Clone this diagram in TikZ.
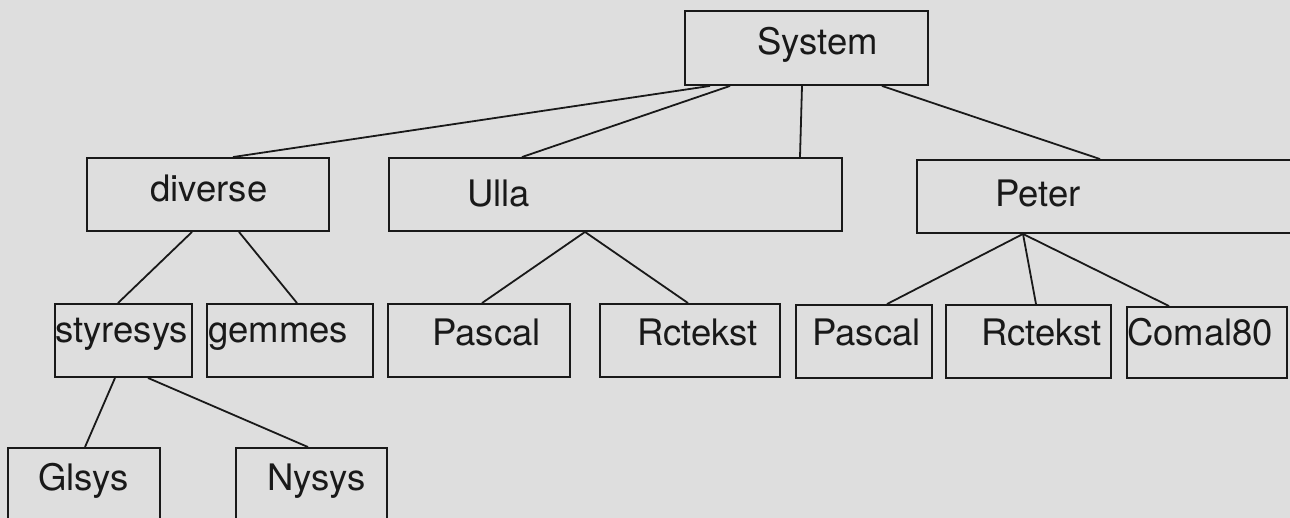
\documentclass[tikz,border=0pt]{standalone}
\usepackage{fontspec}
\setmainfont{TeX Gyre Heros}
\definecolor{bg}{RGB}{222,222,222}
\definecolor{ink}{RGB}{25,25,25}
\begin{document}
\begin{tikzpicture}[x=1pt,y=-1pt,
  box/.style={draw=ink, line width=1.9pt, rectangle, inner sep=0pt},
  lbl/.style={anchor=base west, inner sep=0pt, text=ink, font=\fontsize{36.5}{40}\selectfont},
  edge/.style={draw=ink, line width=1.8pt}]
\useasboundingbox (0,0) rectangle (1290,518);
\clip (0,0) rectangle (1290,518);
\fill[bg] (0,0) rectangle (1290,518);
% boxes
\node[box, minimum width=243pt, minimum height=74pt] (sys) at (806.5,48) {};
\node[box, minimum width=242pt, minimum height=73pt] (div) at (208,194.5) {};
\node[box, minimum width=453pt, minimum height=73pt] (ulla) at (615.5,194.5) {};
\node[box, minimum width=383pt, minimum height=73pt] (peter) at (1108.5,196.5) {};
\node[box, minimum width=137pt, minimum height=73pt] (sty) at (123.5,340.5) {};
\node[box, minimum width=166pt, minimum height=73pt] (gem) at (290,340.5) {};
\node[box, minimum width=182pt, minimum height=73pt] (pasA) at (479,340.5) {};
\node[box, minimum width=180pt, minimum height=73pt] (rctA) at (690,340.5) {};
\node[box, minimum width=136pt, minimum height=73pt] (pasB) at (864,341.5) {};
\node[box, minimum width=165pt, minimum height=73pt] (rctB) at (1028.5,341.5) {};
\node[box, minimum width=160pt, minimum height=71pt] (com) at (1207,342.5) {};
\node[box, minimum width=152pt, minimum height=82pt] (gl) at (84,489) {};
\node[box, minimum width=151pt, minimum height=82pt] (ny) at (311.5,489) {};
% labels
\node[lbl] (tSys) at (757,55) {System};
\node[lbl] (tDiv) at (150,202) {diverse};
\node[lbl] (tUlla) at (467,207) {Ulla};
\node[lbl] (tPeter) at (995,207) {Peter};
\node[lbl] (tSty) at (55,343) {styresys};
\node[lbl] (tGem) at (208,343) {gemmes};
\node[lbl] (tPasA) at (432,345) {Pascal};
\node[lbl] (tRctA) at (637,345) {Rctekst};
\node[lbl] (tPasB) at (812,345) {Pascal};
\node[lbl] (tRctB) at (981,345) {Rctekst};
\node[lbl] (tCom) at (1127,345) {Comal80};
\node[lbl] (tGl) at (38,490) {Glsys};
\node[lbl] (tNy) at (267,490) {Nysys};
% connectors
\draw[edge] ([xshift=-96.5pt]sys.south) -- ([xshift=25pt]div.north);
\draw[edge] ([xshift=-76.5pt]sys.south) -- ([xshift=-93.5pt]ulla.north);
\draw[edge] ([xshift=-4.5pt]sys.south) -- ([xshift=184.5pt]ulla.north);
\draw[edge] ([xshift=75.5pt]sys.south) -- ([xshift=-8.5pt]peter.north);
\draw[edge] ([xshift=-16pt]div.south) -- ([xshift=-5.5pt]sty.north);
\draw[edge] ([xshift=31pt]div.south) -- ([xshift=7pt]gem.north);
\draw[edge] ([xshift=-30.5pt]ulla.south) -- ([xshift=3pt]pasA.north);
\draw[edge] ([xshift=-30.5pt]ulla.south) -- ([xshift=-2pt]rctA.north);
\draw[edge] ([xshift=-85.5pt]peter.south) -- ([xshift=23pt]pasB.north);
\draw[edge] ([xshift=-85.5pt]peter.south) -- ([xshift=7.5pt]rctB.north);
\draw[edge] ([xshift=-85.5pt]peter.south) -- ([xshift=-38pt]com.north);
\draw[edge] ([xshift=-8.5pt]sty.south) -- ([xshift=1pt]gl.north);
\draw[edge] ([xshift=24.5pt]sty.south) -- ([xshift=-3.5pt]ny.north);
\end{tikzpicture}
\end{document}
